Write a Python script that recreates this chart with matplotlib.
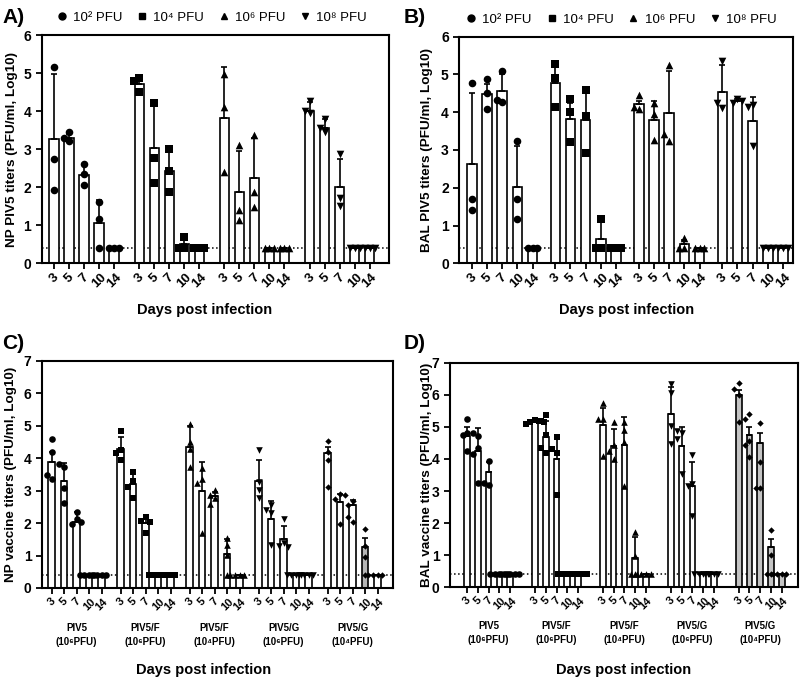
import numpy as np
import matplotlib
matplotlib.use('Agg')
import matplotlib.pyplot as plt
from matplotlib.lines import Line2D
from matplotlib.transforms import blended_transform_factory

plt.rcParams['font.family'] = ['Liberation Sans', 'DejaVu Sans']
plt.rcParams['font.weight'] = 'bold'
plt.rcParams['axes.labelweight'] = 'bold'

days = [3, 5, 7, 10, 14]
lod = 0.4

# Panel A - NP PIV5 titers, one group per dose
dose_labels = ['10² PFU', '10⁴ PFU', '10⁶ PFU', '10⁸ PFU']
a_mean = [[3.27, 3.30, 2.33, 1.05, 0.40],
          [4.72, 3.02, 2.42, 0.50, 0.40],
          [3.82, 1.88, 2.23, 0.40, 0.40],
          [4.00, 3.55, 2.00, 0.40, 0.40]]
a_sd = [[1.70, 0.10, 0.27, 0.62, 0.0],
        [0.13, 1.13, 0.53, 0.17, 0.0],
        [1.33, 1.07, 1.07, 0.0, 0.0],
        [0.25, 0.25, 0.75, 0.0, 0.0]]
a_pts = [[[5.15, 2.73, 1.93], [3.45, 3.30, 3.22], [2.60, 2.35, 2.07], [1.60, 1.17, 0.40], [0.40, 0.40, 0.40]],
         [[4.88, 4.78, 4.50], [4.20, 2.78, 2.10], [3.00, 2.42, 1.88], [0.70, 0.40, 0.40], [0.40, 0.40, 0.40]],
         [[4.97, 4.10, 2.40], [3.10, 1.15, 1.40], [3.37, 1.88, 1.47], [0.40, 0.40, 0.40], [0.40, 0.40, 0.40]],
         [[4.27, 3.95, 4.00], [3.80, 3.45, 3.55], [2.87, 1.50, 1.72], [0.40, 0.40, 0.40], [0.40, 0.40, 0.40]]]

# Panel B - BAL PIV5 titers
b_mean = [[2.62, 4.47, 4.55, 2.02, 0.40],
          [4.77, 3.83, 3.80, 0.65, 0.40],
          [4.23, 3.80, 3.97, 0.50, 0.40],
          [4.53, 4.30, 3.78, 0.40, 0.40]]
b_sd = [[1.88, 0.28, 0.45, 1.08, 0.0],
        [0.48, 0.42, 0.70, 0.45, 0.0],
        [0.07, 0.50, 1.13, 0.12, 0.0],
        [0.72, 0.05, 0.62, 0.0, 0.0]]
b_pts = [[[4.78, 1.70, 1.40], [4.87, 4.50, 4.08], [5.10, 4.27, 4.33], [3.23, 1.70, 1.17], [0.40, 0.40, 0.40]],
         [[5.28, 4.90, 4.15], [4.35, 4.00, 3.22], [4.60, 3.90, 2.93], [1.17, 0.40, 0.40], [0.40, 0.40, 0.40]],
         [[4.45, 4.08, 4.15], [4.25, 3.95, 3.27], [5.25, 3.25, 3.42], [0.68, 0.40, 0.40], [0.40, 0.40, 0.40]],
         [[5.35, 4.12, 4.25], [4.35, 4.25, 4.30], [4.20, 4.15, 3.10], [0.40, 0.40, 0.40], [0.40, 0.40, 0.40]]]

# Panels C/D - vaccine titers
vaccines = ['PIV5\n(10⁶PFU)', 'PIV5/F\n(10⁶PFU)', 'PIV5/F\n(10⁴PFU)', 'PIV5/G\n(10⁶PFU)', 'PIV5/G\n(10⁴PFU)']
c_mean = [[3.88, 3.30, 2.05, 0.40, 0.40],
          [4.30, 3.20, 2.00, 0.40, 0.40],
          [4.35, 3.00, 2.85, 1.05, 0.40],
          [3.30, 2.12, 1.50, 0.40, 0.40],
          [4.15, 2.65, 2.55, 1.25, 0.40]]
c_sd = [[0.30, 0.55, 0.30, 0.0, 0.0],
        [0.37, 0.35, 0.15, 0.0, 0.0],
        [0.65, 0.88, 0.12, 0.45, 0.0],
        [0.65, 0.55, 0.40, 0.0, 0.0],
        [0.20, 0.25, 0.15, 0.30, 0.0]]
c_pts = [[[4.59, 4.18, 3.36, 3.47], [3.74, 3.82, 3.08, 2.63], [2.34, 2.12, 1.98, 2.05], [0.4] * 4, [0.4] * 4],
         [[4.85, 4.26, 4.15, 3.95], [3.30, 3.59, 3.10, 2.77], [2.20, 1.69, 2.07, 2.02], [0.4] * 4, [0.4] * 4],
         [[4.50, 5.05, 4.29, 3.74], [3.35, 3.69, 3.23, 1.69], [3.02, 2.87, 2.77, 2.59], [1.31, 1.53, 1.02, 0.40], [0.4] * 4],
         [[4.26, 3.28, 3.02, 2.77], [2.55, 2.40, 2.30, 1.33], [2.12, 1.38, 1.30, 1.25], [0.4] * 4, [0.4] * 4],
         [[4.54, 4.19, 3.95, 3.10], [2.89, 2.75, 2.88, 1.97], [2.68, 2.55, 2.05, 2.18], [1.81, 1.30, 0.95, 0.40], [0.4] * 4]]

d_mean = [[4.72, 4.25, 3.60, 0.40, 0.40],
          [5.15, 4.70, 4.00, 0.40, 0.40],
          [5.05, 4.40, 4.45, 0.90, 0.40],
          [5.40, 4.40, 3.15, 0.40, 0.40],
          [6.00, 4.75, 4.50, 1.25, 0.40]]
d_sd = [[0.28, 0.72, 0.32, 0.0, 0.0],
        [0.07, 0.50, 0.65, 0.0, 0.0],
        [0.55, 0.55, 0.85, 0.65, 0.0],
        [0.85, 0.60, 0.75, 0.0, 0.0],
        [0.15, 0.25, 0.30, 0.25, 0.0]]
d_pts = [[[4.80, 5.24, 4.75, 4.26], [4.72, 4.33, 4.80, 4.15, 3.24], [3.94, 3.19, 3.26], [0.4] * 5, [0.4] * 5],
         [[5.22, 5.15, 5.20, 5.10, 5.15], [5.37, 5.20, 4.75, 4.18, 4.33], [4.68, 4.20, 2.88, 4.30], [0.4] * 5, [0.4] * 5],
         [[5.24, 5.74, 5.24, 4.09], [5.15, 4.44, 4.25, 4.00], [5.15, 4.90, 4.54, 3.16], [1.73, 0.98, 0.40, 0.40], [0.4] * 4],
         [[6.33, 6.07, 5.03, 4.46], [4.80, 4.88, 4.61, 3.53], [4.12, 3.21, 3.16, 2.22], [0.4] * 4, [0.4] * 4],
         [[6.36, 6.20, 5.15, 6.00], [5.40, 5.24, 4.57, 4.44, 4.07], [5.13, 3.92, 3.08, 3.08], [1.78, 1.00, 0.40, 0.40], [0.4] * 4]]

markers = ['o', 's', '^', 'v', 'D']
msizes = [30, 26, 30, 30, 14]


# simple beeswarm: push overlapping points sideways
def swarm(vals, step, dy):
    placed = []
    offs = []
    for v in vals:
        for k in [0, -1, 1, -2, 2, -3, 3]:
            if all(pk != k or abs(v - pv) >= dy for pv, pk in placed):
                break
        placed.append((v, k))
        offs.append(k * step)
    return np.array(offs)


def draw_panel(ax, means, sds, pts, pitch, xlim, ymax, barw, fills, mscale, step, dy, tick_fs):
    ticks = []
    for g in range(len(means)):
        xs = g * pitch + np.arange(len(days))
        ticks.extend(xs)
        ax.bar(xs, means[g], width=barw, color=fills[g], edgecolor='k', linewidth=1.2, zorder=2)
        ax.errorbar(xs, means[g], yerr=[np.zeros(len(days)), sds[g]], fmt='none', ecolor='k',
                    elinewidth=1.2, capsize=2.2, capthick=1.2, zorder=3)
        for d in range(len(days)):
            vals = pts[g][d]
            offs = swarm(vals, step, dy)
            ax.scatter(xs[d] + offs, vals, marker=markers[g], s=msizes[g] * mscale, c='k',
                       linewidths=0, zorder=4)
    ax.axhline(lod, ls=':', color='k', lw=1.1, zorder=1)
    ax.set_xlim(*xlim)
    ax.set_ylim(0, ymax)
    ax.set_yticks(range(ymax + 1))
    ax.set_xticks(ticks)
    ax.set_xticklabels([str(d) for d in days] * len(means), rotation=45, ha='center',
                       fontsize=tick_fs, fontweight='bold')
    ax.tick_params(axis='y', labelsize=10, width=1.3, length=4)
    ax.tick_params(axis='x', width=1.3, length=4, pad=2)
    for sp in ax.spines.values():
        sp.set_linewidth(1.5)


fig = plt.figure(figsize=(8, 6.81), dpi=100)

axA = fig.add_axes([0.052, 0.6134, 0.434, 0.3352])
axB = fig.add_axes([0.574, 0.6134, 0.4175, 0.3327])
axC = fig.add_axes([0.0525, 0.1366, 0.4388, 0.3333])
axD = fig.add_axes([0.5625, 0.138, 0.435, 0.329])

white4 = [['white'] * 5 for _ in range(4)]
draw_panel(axA, a_mean, a_sd, a_pts, 5.69, (-0.82, 22.34), 6, 0.62, white4, 1.0, 0.32, 0.2, 9.5)
draw_panel(axB, b_mean, b_sd, b_pts, 5.5, (-0.83, 21.17), 6, 0.62, white4, 1.0, 0.32, 0.2, 9.5)

c_fill = [['white'] * 5 for _ in range(5)]
c_fill[4][3] = '#b5b5b5'
d_fill = [['white'] * 5 for _ in range(4)] + [['#c4c4c4'] * 5]
draw_panel(axC, c_mean, c_sd, c_pts, 5.52, (-0.76, 27.32), 7, 0.55, c_fill, 0.75, 0.38, 0.2, 8)
draw_panel(axD, d_mean, d_sd, d_pts, 6.3, (-1.58, 30.7), 7, 0.52, d_fill, 0.75, 0.42, 0.2, 8)

axA.set_ylabel('NP PIV5 titers (PFU/ml, Log10)', fontsize=9.7)
axB.set_ylabel('BAL PIV5 titers (PFU/ml, Log10)', fontsize=9.7)
axC.set_ylabel('NP vaccine titers (PFU/ml, Log10)', fontsize=9.7)
axD.set_ylabel('BAL vaccine titers (PFU/ml, Log10)', fontsize=9.7)
axA.yaxis.set_label_coords(-0.068, 0.5)
axB.yaxis.set_label_coords(-0.079, 0.5)
axC.yaxis.set_label_coords(-0.071, 0.5)
axD.yaxis.set_label_coords(-0.05, 0.5)

for ax, xc, yc in [(axA, 0.47, -0.205), (axB, 0.5, -0.206), (axC, 0.46, -0.361), (axD, 0.5, -0.37)]:
    ax.text(xc, yc, 'Days post infection', transform=ax.transAxes, ha='center', va='center',
            fontsize=10.5, fontweight='bold')

# vaccine group labels under C and D
for ax, pitch in [(axC, 5.52), (axD, 6.3)]:
    tr = blended_transform_factory(ax.transData, ax.transAxes)
    for g, lab in enumerate(vaccines):
        ax.text(g * pitch + 2, -0.205, lab, transform=tr, ha='center', va='center',
                fontsize=7, fontweight='bold', linespacing=1.5)

# dose legends above A and B
handles = [Line2D([], [], ls='none', marker=m, color='k', markersize=5) for m in markers[:4]]
for ax, xc in [(axA, 0.49), (axB, 0.485)]:
    ax.legend(handles, dose_labels, loc='center', bbox_to_anchor=(xc, 1.075), ncol=4,
              frameon=False, handletextpad=0.45, columnspacing=1.1, handlelength=0.8,
              prop={'size': 9.5, 'weight': 'normal'})

for lab, x, y in [('A)', 0.003, 0.975), ('B)', 0.504, 0.975), ('C)', 0.003, 0.495), ('D)', 0.504, 0.495)]:
    fig.text(x, y, lab, fontsize=15, fontweight='bold', va='center', ha='left')

fig.savefig('out.png', dpi=100)
